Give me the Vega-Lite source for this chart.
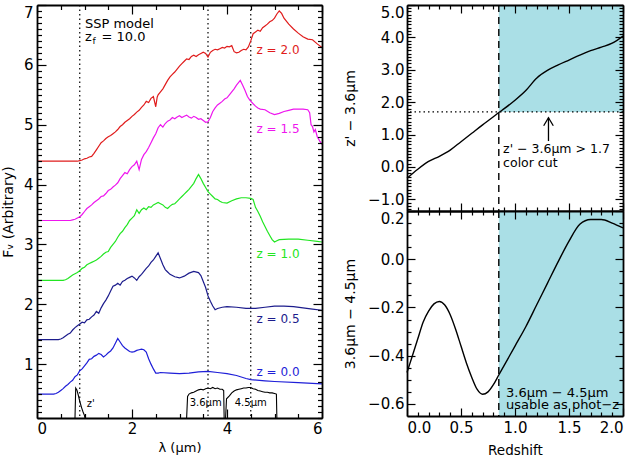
{
  "$schema": "https://vega.github.io/schema/vega-lite/v6.json",
  "background": "white",
  "padding": {"left": 1, "top": 4, "right": 0, "bottom": 0},
  "spacing": 85,
  "bounds": "flush",
  "config": {
    "view": {"stroke": null},
    "axis": {
      "grid": false, "domain": true, "domainColor": "black", "domainWidth": 1.8,
      "tickColor": "black", "tickWidth": 1.2,
      "labelFont": "DejaVu Sans", "labelFontSize": 15, "labelColor": "black",
      "titleFont": "DejaVu Sans", "titleFontSize": 14, "titleFontWeight": "normal", "titleColor": "black",
      "labelOverlap": false, "labelBound": false
    },
    "text": {"font": "DejaVu Sans"}
  },
  "datasets": {
    "spec": [
      {"s":"0.0","x":0,"y":0.50},{"s":"0.0","x":0.35,"y":0.50},{"s":"0.0","x":0.4,"y":0.51},{"s":"0.0","x":0.45,"y":0.53},{"s":"0.0","x":0.5,"y":0.56},{"s":"0.0","x":0.55,"y":0.59},{"s":"0.0","x":0.6,"y":0.63},{"s":"0.0","x":0.65,"y":0.66},{"s":"0.0","x":0.7,"y":0.70},{"s":"0.0","x":0.75,"y":0.73},{"s":"0.0","x":0.8,"y":0.79},{"s":"0.0","x":0.85,"y":0.82},{"s":"0.0","x":0.9,"y":0.89},{"s":"0.0","x":0.95,"y":0.92},{"s":"0.0","x":1.0,"y":0.97},{"s":"0.0","x":1.05,"y":1.02},{"s":"0.0","x":1.1,"y":1.08},{"s":"0.0","x":1.15,"y":1.09},{"s":"0.0","x":1.2,"y":1.13},{"s":"0.0","x":1.25,"y":1.15},{"s":"0.0","x":1.3,"y":1.18},{"s":"0.0","x":1.35,"y":1.16},{"s":"0.0","x":1.4,"y":1.12},{"s":"0.0","x":1.45,"y":1.15},{"s":"0.0","x":1.5,"y":1.19},{"s":"0.0","x":1.55,"y":1.22},{"s":"0.0","x":1.6,"y":1.27},{"s":"0.0","x":1.65,"y":1.35},{"s":"0.0","x":1.7,"y":1.43},{"s":"0.0","x":1.75,"y":1.37},{"s":"0.0","x":1.8,"y":1.31},{"s":"0.0","x":1.85,"y":1.27},{"s":"0.0","x":1.9,"y":1.24},{"s":"0.0","x":1.95,"y":1.21},{"s":"0.0","x":2.0,"y":1.20},{"s":"0.0","x":2.05,"y":1.21},{"s":"0.0","x":2.1,"y":1.23},{"s":"0.0","x":2.15,"y":1.24},{"s":"0.0","x":2.2,"y":1.25},{"s":"0.0","x":2.25,"y":1.24},{"s":"0.0","x":2.3,"y":1.20},{"s":"0.0","x":2.35,"y":1.09},{"s":"0.0","x":2.4,"y":1.00},{"s":"0.0","x":2.45,"y":0.92},{"s":"0.0","x":2.5,"y":0.85},{"s":"0.0","x":2.55,"y":0.85},{"s":"0.0","x":2.6,"y":0.86},{"s":"0.0","x":2.8,"y":0.85},{"s":"0.0","x":3.0,"y":0.84},{"s":"0.0","x":3.2,"y":0.85},{"s":"0.0","x":3.4,"y":0.87},{"s":"0.0","x":3.6,"y":0.88},{"s":"0.0","x":3.8,"y":0.86},{"s":"0.0","x":4.0,"y":0.84},{"s":"0.0","x":4.2,"y":0.81},{"s":"0.0","x":4.4,"y":0.76},{"s":"0.0","x":4.5,"y":0.74},{"s":"0.0","x":4.8,"y":0.72},{"s":"0.0","x":5.0,"y":0.71},{"s":"0.0","x":5.5,"y":0.69},{"s":"0.0","x":6.0,"y":0.67},
      {"s":"0.5","x":0,"y":1.41},{"s":"0.5","x":0.45,"y":1.41},{"s":"0.5","x":0.5,"y":1.42},{"s":"0.5","x":0.55,"y":1.44},{"s":"0.5","x":0.6,"y":1.47},{"s":"0.5","x":0.65,"y":1.50},{"s":"0.5","x":0.7,"y":1.52},{"s":"0.5","x":0.75,"y":1.57},{"s":"0.5","x":0.8,"y":1.61},{"s":"0.5","x":0.85,"y":1.64},{"s":"0.5","x":0.9,"y":1.67},{"s":"0.5","x":0.95,"y":1.70},{"s":"0.5","x":1.0,"y":1.69},{"s":"0.5","x":1.05,"y":1.74},{"s":"0.5","x":1.1,"y":1.75},{"s":"0.5","x":1.15,"y":1.79},{"s":"0.5","x":1.2,"y":1.82},{"s":"0.5","x":1.25,"y":1.88},{"s":"0.5","x":1.3,"y":1.85},{"s":"0.5","x":1.35,"y":1.94},{"s":"0.5","x":1.4,"y":2.01},{"s":"0.5","x":1.45,"y":2.07},{"s":"0.5","x":1.5,"y":2.14},{"s":"0.5","x":1.55,"y":2.22},{"s":"0.5","x":1.6,"y":2.30},{"s":"0.5","x":1.65,"y":2.32},{"s":"0.5","x":1.7,"y":2.35},{"s":"0.5","x":1.75,"y":2.32},{"s":"0.5","x":1.8,"y":2.38},{"s":"0.5","x":1.85,"y":2.40},{"s":"0.5","x":1.9,"y":2.43},{"s":"0.5","x":1.95,"y":2.45},{"s":"0.5","x":2.0,"y":2.47},{"s":"0.5","x":2.05,"y":2.44},{"s":"0.5","x":2.1,"y":2.40},{"s":"0.5","x":2.15,"y":2.46},{"s":"0.5","x":2.2,"y":2.50},{"s":"0.5","x":2.25,"y":2.55},{"s":"0.5","x":2.3,"y":2.60},{"s":"0.5","x":2.35,"y":2.64},{"s":"0.5","x":2.4,"y":2.70},{"s":"0.5","x":2.45,"y":2.74},{"s":"0.5","x":2.5,"y":2.80},{"s":"0.5","x":2.55,"y":2.86},{"s":"0.5","x":2.6,"y":2.76},{"s":"0.5","x":2.65,"y":2.66},{"s":"0.5","x":2.7,"y":2.58},{"s":"0.5","x":2.75,"y":2.54},{"s":"0.5","x":2.8,"y":2.50},{"s":"0.5","x":2.9,"y":2.46},{"s":"0.5","x":3.0,"y":2.44},{"s":"0.5","x":3.1,"y":2.47},{"s":"0.5","x":3.2,"y":2.52},{"s":"0.5","x":3.3,"y":2.55},{"s":"0.5","x":3.4,"y":2.53},{"s":"0.5","x":3.45,"y":2.48},{"s":"0.5","x":3.5,"y":2.38},{"s":"0.5","x":3.55,"y":2.28},{"s":"0.5","x":3.6,"y":2.14},{"s":"0.5","x":3.65,"y":2.05},{"s":"0.5","x":3.7,"y":1.97},{"s":"0.5","x":3.75,"y":1.91},{"s":"0.5","x":3.8,"y":1.93},{"s":"0.5","x":3.9,"y":1.95},{"s":"0.5","x":4.0,"y":1.96},{"s":"0.5","x":4.2,"y":1.95},{"s":"0.5","x":4.4,"y":1.93},{"s":"0.5","x":4.6,"y":1.93},{"s":"0.5","x":4.8,"y":1.95},{"s":"0.5","x":5.0,"y":1.97},{"s":"0.5","x":5.2,"y":1.97},{"s":"0.5","x":5.4,"y":1.96},{"s":"0.5","x":5.6,"y":1.94},{"s":"0.5","x":5.8,"y":1.92},{"s":"0.5","x":6.0,"y":1.90},
      {"s":"1.0","x":0,"y":2.40},{"s":"1.0","x":0.55,"y":2.40},{"s":"1.0","x":0.6,"y":2.41},{"s":"1.0","x":0.65,"y":2.43},{"s":"1.0","x":0.7,"y":2.46},{"s":"1.0","x":0.75,"y":2.49},{"s":"1.0","x":0.8,"y":2.51},{"s":"1.0","x":0.85,"y":2.53},{"s":"1.0","x":0.9,"y":2.56},{"s":"1.0","x":0.95,"y":2.60},{"s":"1.0","x":1.0,"y":2.62},{"s":"1.0","x":1.05,"y":2.66},{"s":"1.0","x":1.1,"y":2.68},{"s":"1.0","x":1.15,"y":2.70},{"s":"1.0","x":1.2,"y":2.72},{"s":"1.0","x":1.25,"y":2.74},{"s":"1.0","x":1.3,"y":2.77},{"s":"1.0","x":1.35,"y":2.80},{"s":"1.0","x":1.4,"y":2.84},{"s":"1.0","x":1.45,"y":2.87},{"s":"1.0","x":1.5,"y":2.88},{"s":"1.0","x":1.55,"y":2.95},{"s":"1.0","x":1.6,"y":3.00},{"s":"1.0","x":1.65,"y":3.05},{"s":"1.0","x":1.7,"y":3.12},{"s":"1.0","x":1.75,"y":3.18},{"s":"1.0","x":1.8,"y":3.22},{"s":"1.0","x":1.85,"y":3.28},{"s":"1.0","x":1.9,"y":3.33},{"s":"1.0","x":1.95,"y":3.40},{"s":"1.0","x":2.0,"y":3.44},{"s":"1.0","x":2.05,"y":3.48},{"s":"1.0","x":2.1,"y":3.58},{"s":"1.0","x":2.15,"y":3.52},{"s":"1.0","x":2.2,"y":3.58},{"s":"1.0","x":2.25,"y":3.61},{"s":"1.0","x":2.3,"y":3.58},{"s":"1.0","x":2.35,"y":3.63},{"s":"1.0","x":2.4,"y":3.62},{"s":"1.0","x":2.45,"y":3.66},{"s":"1.0","x":2.5,"y":3.68},{"s":"1.0","x":2.55,"y":3.70},{"s":"1.0","x":2.6,"y":3.68},{"s":"1.0","x":2.65,"y":3.66},{"s":"1.0","x":2.7,"y":3.62},{"s":"1.0","x":2.75,"y":3.60},{"s":"1.0","x":2.8,"y":3.64},{"s":"1.0","x":2.85,"y":3.67},{"s":"1.0","x":2.9,"y":3.68},{"s":"1.0","x":2.95,"y":3.72},{"s":"1.0","x":3.0,"y":3.76},{"s":"1.0","x":3.05,"y":3.80},{"s":"1.0","x":3.1,"y":3.84},{"s":"1.0","x":3.15,"y":3.88},{"s":"1.0","x":3.2,"y":3.92},{"s":"1.0","x":3.25,"y":3.97},{"s":"1.0","x":3.3,"y":4.02},{"s":"1.0","x":3.35,"y":4.10},{"s":"1.0","x":3.4,"y":4.17},{"s":"1.0","x":3.45,"y":4.10},{"s":"1.0","x":3.5,"y":4.02},{"s":"1.0","x":3.55,"y":3.95},{"s":"1.0","x":3.6,"y":3.88},{"s":"1.0","x":3.65,"y":3.84},{"s":"1.0","x":3.7,"y":3.80},{"s":"1.0","x":3.75,"y":3.76},{"s":"1.0","x":3.8,"y":3.75},{"s":"1.0","x":3.85,"y":3.72},{"s":"1.0","x":3.9,"y":3.70},{"s":"1.0","x":4.0,"y":3.69},{"s":"1.0","x":4.1,"y":3.73},{"s":"1.0","x":4.2,"y":3.76},{"s":"1.0","x":4.3,"y":3.78},{"s":"1.0","x":4.4,"y":3.78},{"s":"1.0","x":4.5,"y":3.77},{"s":"1.0","x":4.55,"y":3.75},{"s":"1.0","x":4.6,"y":3.62},{"s":"1.0","x":4.65,"y":3.55},{"s":"1.0","x":4.7,"y":3.47},{"s":"1.0","x":4.75,"y":3.38},{"s":"1.0","x":4.8,"y":3.30},{"s":"1.0","x":4.85,"y":3.22},{"s":"1.0","x":4.9,"y":3.15},{"s":"1.0","x":4.95,"y":3.08},{"s":"1.0","x":5.0,"y":3.04},{"s":"1.0","x":5.05,"y":3.06},{"s":"1.0","x":5.1,"y":3.08},{"s":"1.0","x":5.3,"y":3.09},{"s":"1.0","x":5.5,"y":3.09},{"s":"1.0","x":5.7,"y":3.07},{"s":"1.0","x":5.9,"y":3.05},{"s":"1.0","x":6.0,"y":3.04},
      {"s":"1.5","x":0,"y":3.40},{"s":"1.5","x":0.7,"y":3.40},{"s":"1.5","x":0.75,"y":3.41},{"s":"1.5","x":0.8,"y":3.42},{"s":"1.5","x":0.85,"y":3.44},{"s":"1.5","x":0.9,"y":3.46},{"s":"1.5","x":0.95,"y":3.50},{"s":"1.5","x":1.0,"y":3.55},{"s":"1.5","x":1.05,"y":3.60},{"s":"1.5","x":1.1,"y":3.63},{"s":"1.5","x":1.15,"y":3.66},{"s":"1.5","x":1.2,"y":3.70},{"s":"1.5","x":1.25,"y":3.73},{"s":"1.5","x":1.3,"y":3.76},{"s":"1.5","x":1.35,"y":3.80},{"s":"1.5","x":1.4,"y":3.81},{"s":"1.5","x":1.45,"y":3.85},{"s":"1.5","x":1.5,"y":3.90},{"s":"1.5","x":1.55,"y":3.92},{"s":"1.5","x":1.6,"y":3.96},{"s":"1.5","x":1.65,"y":3.99},{"s":"1.5","x":1.7,"y":4.03},{"s":"1.5","x":1.75,"y":4.10},{"s":"1.5","x":1.8,"y":4.15},{"s":"1.5","x":1.85,"y":4.20},{"s":"1.5","x":1.9,"y":4.18},{"s":"1.5","x":1.95,"y":4.25},{"s":"1.5","x":2.0,"y":4.30},{"s":"1.5","x":2.05,"y":4.33},{"s":"1.5","x":2.1,"y":4.39},{"s":"1.5","x":2.15,"y":4.25},{"s":"1.5","x":2.2,"y":4.42},{"s":"1.5","x":2.25,"y":4.50},{"s":"1.5","x":2.3,"y":4.55},{"s":"1.5","x":2.35,"y":4.62},{"s":"1.5","x":2.4,"y":4.70},{"s":"1.5","x":2.45,"y":4.78},{"s":"1.5","x":2.5,"y":4.85},{"s":"1.5","x":2.55,"y":4.95},{"s":"1.5","x":2.6,"y":5.00},{"s":"1.5","x":2.65,"y":4.96},{"s":"1.5","x":2.7,"y":5.02},{"s":"1.5","x":2.75,"y":5.06},{"s":"1.5","x":2.8,"y":5.08},{"s":"1.5","x":2.85,"y":5.12},{"s":"1.5","x":2.9,"y":5.10},{"s":"1.5","x":2.95,"y":5.13},{"s":"1.5","x":3.0,"y":5.15},{"s":"1.5","x":3.05,"y":5.12},{"s":"1.5","x":3.1,"y":5.14},{"s":"1.5","x":3.15,"y":5.16},{"s":"1.5","x":3.2,"y":5.13},{"s":"1.5","x":3.25,"y":5.11},{"s":"1.5","x":3.3,"y":5.14},{"s":"1.5","x":3.35,"y":5.12},{"s":"1.5","x":3.4,"y":5.09},{"s":"1.5","x":3.45,"y":5.10},{"s":"1.5","x":3.5,"y":5.07},{"s":"1.5","x":3.55,"y":5.04},{"s":"1.5","x":3.6,"y":5.05},{"s":"1.5","x":3.65,"y":5.12},{"s":"1.5","x":3.7,"y":5.22},{"s":"1.5","x":3.75,"y":5.28},{"s":"1.5","x":3.8,"y":5.33},{"s":"1.5","x":3.85,"y":5.36},{"s":"1.5","x":3.9,"y":5.39},{"s":"1.5","x":3.95,"y":5.43},{"s":"1.5","x":4.0,"y":5.45},{"s":"1.5","x":4.05,"y":5.50},{"s":"1.5","x":4.1,"y":5.55},{"s":"1.5","x":4.15,"y":5.60},{"s":"1.5","x":4.2,"y":5.66},{"s":"1.5","x":4.28,"y":5.74},{"s":"1.5","x":4.33,"y":5.66},{"s":"1.5","x":4.38,"y":5.57},{"s":"1.5","x":4.43,"y":5.47},{"s":"1.5","x":4.48,"y":5.41},{"s":"1.5","x":4.55,"y":5.35},{"s":"1.5","x":4.6,"y":5.31},{"s":"1.5","x":4.65,"y":5.28},{"s":"1.5","x":4.7,"y":5.26},{"s":"1.5","x":4.8,"y":5.25},{"s":"1.5","x":4.9,"y":5.20},{"s":"1.5","x":5.0,"y":5.17},{"s":"1.5","x":5.1,"y":5.19},{"s":"1.5","x":5.2,"y":5.22},{"s":"1.5","x":5.3,"y":5.24},{"s":"1.5","x":5.4,"y":5.26},{"s":"1.5","x":5.5,"y":5.26},{"s":"1.5","x":5.6,"y":5.26},{"s":"1.5","x":5.7,"y":5.25},{"s":"1.5","x":5.74,"y":5.20},{"s":"1.5","x":5.77,"y":5.00},{"s":"1.5","x":5.8,"y":4.97},{"s":"1.5","x":5.83,"y":4.88},{"s":"1.5","x":5.86,"y":4.92},{"s":"1.5","x":5.9,"y":4.80},{"s":"1.5","x":5.95,"y":4.73},{"s":"1.5","x":6.0,"y":4.67},
      {"s":"2.0","x":0,"y":4.39},{"s":"2.0","x":0.85,"y":4.39},{"s":"2.0","x":0.9,"y":4.40},{"s":"2.0","x":0.95,"y":4.41},{"s":"2.0","x":1.0,"y":4.43},{"s":"2.0","x":1.05,"y":4.44},{"s":"2.0","x":1.1,"y":4.46},{"s":"2.0","x":1.15,"y":4.47},{"s":"2.0","x":1.2,"y":4.52},{"s":"2.0","x":1.25,"y":4.58},{"s":"2.0","x":1.3,"y":4.64},{"s":"2.0","x":1.35,"y":4.70},{"s":"2.0","x":1.4,"y":4.73},{"s":"2.0","x":1.45,"y":4.77},{"s":"2.0","x":1.5,"y":4.80},{"s":"2.0","x":1.55,"y":4.82},{"s":"2.0","x":1.6,"y":4.85},{"s":"2.0","x":1.65,"y":4.88},{"s":"2.0","x":1.7,"y":4.92},{"s":"2.0","x":1.75,"y":4.97},{"s":"2.0","x":1.8,"y":5.00},{"s":"2.0","x":1.85,"y":5.04},{"s":"2.0","x":1.9,"y":5.07},{"s":"2.0","x":1.95,"y":5.10},{"s":"2.0","x":2.0,"y":5.14},{"s":"2.0","x":2.05,"y":5.17},{"s":"2.0","x":2.1,"y":5.21},{"s":"2.0","x":2.15,"y":5.24},{"s":"2.0","x":2.2,"y":5.29},{"s":"2.0","x":2.25,"y":5.33},{"s":"2.0","x":2.3,"y":5.39},{"s":"2.0","x":2.35,"y":5.37},{"s":"2.0","x":2.4,"y":5.44},{"s":"2.0","x":2.45,"y":5.47},{"s":"2.0","x":2.5,"y":5.30},{"s":"2.0","x":2.53,"y":5.46},{"s":"2.0","x":2.55,"y":5.50},{"s":"2.0","x":2.6,"y":5.55},{"s":"2.0","x":2.65,"y":5.60},{"s":"2.0","x":2.7,"y":5.67},{"s":"2.0","x":2.75,"y":5.74},{"s":"2.0","x":2.8,"y":5.80},{"s":"2.0","x":2.85,"y":5.84},{"s":"2.0","x":2.9,"y":5.88},{"s":"2.0","x":2.95,"y":5.93},{"s":"2.0","x":3.0,"y":5.98},{"s":"2.0","x":3.05,"y":6.02},{"s":"2.0","x":3.1,"y":6.06},{"s":"2.0","x":3.15,"y":6.10},{"s":"2.0","x":3.2,"y":6.09},{"s":"2.0","x":3.25,"y":6.14},{"s":"2.0","x":3.3,"y":6.16},{"s":"2.0","x":3.35,"y":6.14},{"s":"2.0","x":3.4,"y":6.17},{"s":"2.0","x":3.45,"y":6.19},{"s":"2.0","x":3.5,"y":6.21},{"s":"2.0","x":3.55,"y":6.19},{"s":"2.0","x":3.6,"y":6.13},{"s":"2.0","x":3.65,"y":6.21},{"s":"2.0","x":3.7,"y":6.24},{"s":"2.0","x":3.75,"y":6.26},{"s":"2.0","x":3.8,"y":6.25},{"s":"2.0","x":3.85,"y":6.27},{"s":"2.0","x":3.9,"y":6.29},{"s":"2.0","x":3.95,"y":6.28},{"s":"2.0","x":4.0,"y":6.31},{"s":"2.0","x":4.05,"y":6.30},{"s":"2.0","x":4.1,"y":6.32},{"s":"2.0","x":4.15,"y":6.22},{"s":"2.0","x":4.2,"y":6.20},{"s":"2.0","x":4.25,"y":6.21},{"s":"2.0","x":4.3,"y":6.24},{"s":"2.0","x":4.35,"y":6.26},{"s":"2.0","x":4.4,"y":6.25},{"s":"2.0","x":4.45,"y":6.30},{"s":"2.0","x":4.5,"y":6.40},{"s":"2.0","x":4.55,"y":6.52},{"s":"2.0","x":4.6,"y":6.55},{"s":"2.0","x":4.65,"y":6.58},{"s":"2.0","x":4.7,"y":6.56},{"s":"2.0","x":4.75,"y":6.62},{"s":"2.0","x":4.8,"y":6.65},{"s":"2.0","x":4.85,"y":6.68},{"s":"2.0","x":4.9,"y":6.72},{"s":"2.0","x":4.95,"y":6.74},{"s":"2.0","x":5.0,"y":6.78},{"s":"2.0","x":5.05,"y":6.85},{"s":"2.0","x":5.1,"y":6.90},{"s":"2.0","x":5.15,"y":6.86},{"s":"2.0","x":5.2,"y":6.78},{"s":"2.0","x":5.3,"y":6.68},{"s":"2.0","x":5.4,"y":6.60},{"s":"2.0","x":5.5,"y":6.53},{"s":"2.0","x":5.6,"y":6.47},{"s":"2.0","x":5.7,"y":6.43},{"s":"2.0","x":5.8,"y":6.42},{"s":"2.0","x":5.9,"y":6.35},{"s":"2.0","x":6.0,"y":6.29}
    ],
    "filt": [
      {"f":"z","x":0.80,"y":0.1},{"f":"z","x":0.815,"y":0.60},{"f":"z","x":0.84,"y":0.57},{"f":"z","x":0.87,"y":0.48},{"f":"z","x":0.90,"y":0.38},{"f":"z","x":0.94,"y":0.27},{"f":"z","x":0.97,"y":0.20},{"f":"z","x":1.0,"y":0.14},{"f":"z","x":1.01,"y":0.1},
      {"f":"i1","x":3.15,"y":0.1},{"f":"i1","x":3.17,"y":0.46},{"f":"i1","x":3.2,"y":0.50},{"f":"i1","x":3.25,"y":0.52},{"f":"i1","x":3.3,"y":0.53},{"f":"i1","x":3.35,"y":0.55},{"f":"i1","x":3.4,"y":0.57},{"f":"i1","x":3.45,"y":0.58},{"f":"i1","x":3.5,"y":0.57},{"f":"i1","x":3.55,"y":0.59},{"f":"i1","x":3.6,"y":0.60},{"f":"i1","x":3.65,"y":0.59},{"f":"i1","x":3.7,"y":0.61},{"f":"i1","x":3.75,"y":0.59},{"f":"i1","x":3.8,"y":0.60},{"f":"i1","x":3.85,"y":0.58},{"f":"i1","x":3.9,"y":0.58},{"f":"i1","x":3.93,"y":0.56},{"f":"i1","x":3.94,"y":0.1},
      {"f":"i2","x":3.97,"y":0.1},{"f":"i2","x":3.99,"y":0.42},{"f":"i2","x":4.05,"y":0.47},{"f":"i2","x":4.1,"y":0.52},{"f":"i2","x":4.15,"y":0.55},{"f":"i2","x":4.2,"y":0.57},{"f":"i2","x":4.25,"y":0.58},{"f":"i2","x":4.3,"y":0.59},{"f":"i2","x":4.35,"y":0.60},{"f":"i2","x":4.4,"y":0.60},{"f":"i2","x":4.45,"y":0.61},{"f":"i2","x":4.5,"y":0.61},{"f":"i2","x":4.55,"y":0.59},{"f":"i2","x":4.6,"y":0.58},{"f":"i2","x":4.65,"y":0.56},{"f":"i2","x":4.7,"y":0.55},{"f":"i2","x":4.75,"y":0.54},{"f":"i2","x":4.8,"y":0.53},{"f":"i2","x":4.85,"y":0.53},{"f":"i2","x":4.9,"y":0.52},{"f":"i2","x":4.95,"y":0.52},{"f":"i2","x":5.0,"y":0.51},{"f":"i2","x":5.04,"y":0.50},{"f":"i2","x":5.05,"y":0.1}
    ],
    "zc": [
      {"z":0,"v":-0.35},{"z":0.1,"v":-0.07},{"z":0.2,"v":0.17},{"z":0.3,"v":0.33},{"z":0.4,"v":0.52},{"z":0.5,"v":0.78},{"z":0.6,"v":1.04},{"z":0.7,"v":1.30},{"z":0.8,"v":1.55},{"z":0.85,"v":1.68},{"z":0.9,"v":1.80},{"z":1.0,"v":2.06},{"z":1.1,"v":2.36},{"z":1.2,"v":2.74},{"z":1.3,"v":2.98},{"z":1.4,"v":3.15},{"z":1.5,"v":3.30},{"z":1.6,"v":3.45},{"z":1.7,"v":3.59},{"z":1.8,"v":3.70},{"z":1.9,"v":3.82},{"z":2.0,"v":4.04}
    ],
    "ic": [
      {"z":0,"v":-0.47},{"z":0.05,"v":-0.40},{"z":0.1,"v":-0.33},{"z":0.15,"v":-0.26},{"z":0.2,"v":-0.215},{"z":0.25,"v":-0.185},{"z":0.3,"v":-0.175},{"z":0.35,"v":-0.19},{"z":0.4,"v":-0.23},{"z":0.45,"v":-0.29},{"z":0.5,"v":-0.36},{"z":0.55,"v":-0.43},{"z":0.6,"v":-0.49},{"z":0.65,"v":-0.54},{"z":0.7,"v":-0.56},{"z":0.75,"v":-0.55},{"z":0.8,"v":-0.52},{"z":0.85,"v":-0.48},{"z":0.9,"v":-0.44},{"z":1.0,"v":-0.36},{"z":1.1,"v":-0.28},{"z":1.2,"v":-0.19},{"z":1.3,"v":-0.10},{"z":1.4,"v":-0.01},{"z":1.5,"v":0.075},{"z":1.6,"v":0.145},{"z":1.7,"v":0.165},{"z":1.8,"v":0.165},{"z":1.9,"v":0.15},{"z":2.0,"v":0.13}
    ]
  },
  "hconcat": [
    {
      "width": 285,
      "height": 413,
      "resolve": {"axis": {"x": "independent", "y": "independent"}},
      "layer": [
        {
          "data": {"values": [{"x": 0.9}, {"x": 3.6}, {"x": 4.5}]},
          "mark": {"type": "rule", "color": "black", "strokeWidth": 1.2, "strokeDash": [1.5, 3]},
          "encoding": {
            "x": {"field": "x", "type": "quantitative", "scale": {"domain": [0, 6], "nice": false, "zero": false},
              "axis": {"orient": "top", "zindex": 1, "labels": false, "title": null, "domain": false, "tickSize": -4.5,
                "values": [0.5,1,1.5,2.5,3,3.5,4.5,5,5.5]}}
          }
        },
        {
          "data": {"name": "spec"},
          "mark": {"type": "line", "strokeWidth": 1.2, "clip": true},
          "encoding": {
            "x": {"field": "x", "type": "quantitative", "scale": {"domain": [0, 6], "nice": false, "zero": false},
              "axis": {"orient": "bottom", "zindex": 1, "values": [0, 2, 4, 6], "format": "d", "tickSize": -9,
                "labelPadding": 12.5, "labelOverlap": false, "title": "λ (μm)", "titleFontSize": 13, "titlePadding": 5}},
            "y": {"field": "y", "type": "quantitative", "scale": {"domain": [0.1, 7], "nice": false, "zero": false},
              "axis": {"orient": "left", "zindex": 1, "values": [1, 2, 3, 4, 5, 6, 7], "format": "d", "tickSize": -9,
                "labelPadding": 13, "labelFlush": true, "labelOverlap": false, "title": "Fᵥ (Arbitrary)", "titlePadding": 8}},
            "color": {"field": "s", "type": "nominal",
              "scale": {"domain": ["2.0", "1.5", "1.0", "0.5", "0.0"], "range": ["#e01c1c", "#ee16ee", "#22e622", "#1c1c8c", "#1f1fd8"]},
              "legend": null}
          }
        },
        {
          "data": {"name": "filt"},
          "mark": {"type": "line", "color": "black", "strokeWidth": 1.1, "clip": true},
          "encoding": {
            "x": {"field": "x", "type": "quantitative", "scale": {"domain": [0, 6], "nice": false, "zero": false},
              "axis": {"orient": "bottom", "zindex": 1, "labels": false, "title": null, "domain": false, "tickSize": -4.5,
                "values": [0.5,1,1.5,2.5,3,3.5,4.5,5,5.5]}},
            "y": {"field": "y", "type": "quantitative", "scale": {"domain": [0.1, 7], "nice": false, "zero": false},
              "axis": {"orient": "left", "zindex": 1, "labels": false, "title": null, "domain": false, "tickSize": -4.5,
                "values": [0.1,0.2,0.3,0.4,0.5,0.6,0.7,0.8,0.9,1.1,1.2,1.3,1.4,1.5,1.6,1.7,1.8,1.9,2.1,2.2,2.3,2.4,2.5,2.6,2.7,2.8,2.9,3.1,3.2,3.3,3.4,3.5,3.6,3.7,3.8,3.9,4.1,4.2,4.3,4.4,4.5,4.6,4.7,4.8,4.9,5.1,5.2,5.3,5.4,5.5,5.6,5.7,5.8,5.9,6.1,6.2,6.3,6.4,6.5,6.6,6.7,6.8,6.9]}},
            "detail": {"field": "f", "type": "nominal"}
          }
        },
        {
          "data": {"values": [
            {"s": "2.0", "x": 4.62, "y": 6.24, "t": "z = 2.0"},
            {"s": "1.5", "x": 4.62, "y": 4.93, "t": "z = 1.5"},
            {"s": "1.0", "x": 4.62, "y": 2.84, "t": "z = 1.0"},
            {"s": "0.5", "x": 4.62, "y": 1.75, "t": "z = 0.5"},
            {"s": "0.0", "x": 4.62, "y": 0.87, "t": "z = 0.0"}
          ]},
          "mark": {"type": "text", "align": "left", "baseline": "middle", "fontSize": 12},
          "encoding": {
            "x": {"field": "x", "type": "quantitative", "scale": {"domain": [0, 6], "nice": false, "zero": false},
              "axis": {"orient": "top", "zindex": 1, "labels": false, "title": null, "tickSize": -9, "values": [0, 2, 4, 6]}},
            "y": {"field": "y", "type": "quantitative", "scale": {"domain": [0.1, 7], "nice": false, "zero": false},
              "axis": {"orient": "right", "zindex": 1, "labels": false, "title": null, "tickSize": -9, "values": [1, 2, 3, 4, 5, 6, 7]}},
            "text": {"field": "t"},
            "color": {"field": "s", "type": "nominal", "legend": null}
          }
        },
        {
          "data": {"values": [
            {"x": 1.13, "y": 0.33, "t": "z'"},
            {"x": 3.55, "y": 0.35, "t": "3.6μm"},
            {"x": 4.5, "y": 0.35, "t": "4.5μm"}
          ]},
          "mark": {"type": "text", "align": "center", "baseline": "middle", "fontSize": 10, "color": "black"},
          "encoding": {
            "x": {"field": "x", "type": "quantitative", "axis": null},
            "y": {"field": "y", "type": "quantitative", "scale": {"domain": [0.1, 7], "nice": false, "zero": false},
              "axis": {"orient": "right", "zindex": 1, "labels": false, "title": null, "domain": false, "tickSize": -4.5,
                "values": [0.1,0.2,0.3,0.4,0.5,0.6,0.7,0.8,0.9,1.1,1.2,1.3,1.4,1.5,1.6,1.7,1.8,1.9,2.1,2.2,2.3,2.4,2.5,2.6,2.7,2.8,2.9,3.1,3.2,3.3,3.4,3.5,3.6,3.7,3.8,3.9,4.1,4.2,4.3,4.4,4.5,4.6,4.7,4.8,4.9,5.1,5.2,5.3,5.4,5.5,5.6,5.7,5.8,5.9,6.1,6.2,6.3,6.4,6.5,6.6,6.7,6.8,6.9]}},
            "text": {"field": "t"}
          }
        },
        {
          "data": {"values": [{"x": 1.01, "y": 6.68}]},
          "mark": {"type": "text", "align": "left", "baseline": "middle", "fontSize": 13, "color": "black"},
          "encoding": {
            "x": {"field": "x", "type": "quantitative", "axis": null},
            "y": {"field": "y", "type": "quantitative", "axis": null},
            "text": {"value": "SSP  model"}
          }
        },
        {
          "data": {"values": [{"x": 1.01, "y": 6.47}]},
          "mark": {"type": "text", "align": "left", "baseline": "middle", "fontSize": 13, "color": "black"},
          "encoding": {
            "x": {"field": "x", "type": "quantitative", "axis": null},
            "y": {"field": "y", "type": "quantitative", "axis": null},
            "text": {"value": "z"}
          }
        },
        {
          "data": {"values": [{"x": 1.01, "y": 6.47}]},
          "mark": {"type": "text", "align": "left", "baseline": "middle", "fontSize": 9, "color": "black", "dx": 7.5, "dy": 4},
          "encoding": {
            "x": {"field": "x", "type": "quantitative", "axis": null},
            "y": {"field": "y", "type": "quantitative", "axis": null},
            "text": {"value": "f"}
          }
        },
        {
          "data": {"values": [{"x": 1.01, "y": 6.47}]},
          "mark": {"type": "text", "align": "left", "baseline": "middle", "fontSize": 13, "color": "black", "dx": 16.5},
          "encoding": {
            "x": {"field": "x", "type": "quantitative", "axis": null},
            "y": {"field": "y", "type": "quantitative", "axis": null},
            "text": {"value": "=  10.0"}
          }
        }
      ]
    },
    {
      "spacing": 0,
      "bounds": "flush",
      "vconcat": [
        {
          "width": 216,
          "height": 206,
          "resolve": {"axis": {"x": "independent", "y": "independent"}},
          "layer": [
            {
              "data": {"values": [{"x": 0.85, "x2": 2.0, "y": 1.7, "y2": 5.0}]},
              "mark": {"type": "rect", "color": "#aadfe6"},
              "encoding": {
                "x": {"field": "x", "type": "quantitative", "scale": {"domain": [0, 2], "nice": false, "zero": false}, "axis": null},
                "x2": {"field": "x2"},
                "y": {"field": "y", "type": "quantitative", "scale": {"domain": [-1.36, 5], "nice": false, "zero": false}, "axis": null},
                "y2": {"field": "y2"}
              }
            },
            {
              "data": {"values": [{"y": 1.7}]},
              "mark": {"type": "rule", "color": "black", "strokeWidth": 1.3, "strokeDash": [1.5, 3]},
              "encoding": {
                "y": {"field": "y", "type": "quantitative", "scale": {"domain": [-1.36, 5], "nice": false, "zero": false},
                  "axis": {"orient": "right", "zindex": 1, "labels": false, "title": null, "domain": false, "tickSize": -4,
                    "values": [-1.3,-1.2,-1.1,-0.9,-0.8,-0.7,-0.6,-0.5,-0.4,-0.3,-0.2,-0.1,0.1,0.2,0.3,0.4,0.5,0.6,0.7,0.8,0.9,1.1,1.2,1.3,1.4,1.5,1.6,1.7,1.8,1.9,2.1,2.2,2.3,2.4,2.5,2.6,2.7,2.8,2.9,3.1,3.2,3.3,3.4,3.5,3.6,3.7,3.8,3.9,4.1,4.2,4.3,4.4,4.5,4.6,4.7,4.8,4.9]}}
              }
            },
            {
              "data": {"values": [{"x": 0.85}]},
              "mark": {"type": "rule", "color": "black", "strokeWidth": 1.4, "strokeDash": [7, 5]},
              "encoding": {
                "x": {"field": "x", "type": "quantitative", "scale": {"domain": [0, 2], "nice": false, "zero": false},
                  "axis": {"orient": "top", "zindex": 1, "labels": false, "title": null, "domain": false, "tickSize": -4,
                    "values": [0.1,0.2,0.3,0.4,0.6,0.7,0.8,0.9,1.1,1.2,1.3,1.4,1.6,1.7,1.8,1.9]}}
              }
            },
            {
              "data": {"name": "zc"},
              "mark": {"type": "line", "color": "black", "strokeWidth": 1.4, "interpolate": "monotone"},
              "encoding": {
                "x": {"field": "z", "type": "quantitative", "scale": {"domain": [0, 2], "nice": false, "zero": false},
                  "axis": {"orient": "bottom", "zindex": 1, "labels": false, "title": null, "tickSize": -8, "values": [0, 0.5, 1, 1.5, 2]}},
                "y": {"field": "v", "type": "quantitative", "scale": {"domain": [-1.36, 5], "nice": false, "zero": false},
                  "axis": {"orient": "left", "zindex": 1, "format": ".1f", "values": [-1, 0, 1, 2, 3, 4, 5], "tickSize": -8,
                    "labelPadding": 11, "labelFlush": true, "labelOverlap": false, "title": "z'  −  3.6μm", "titlePadding": 10}}
              }
            },
            {
              "data": {"values": [{"z": 1.31, "v": 0.8, "v2": 1.52}]},
              "mark": {"type": "rule", "color": "black", "strokeWidth": 1.3},
              "encoding": {
                "x": {"field": "z", "type": "quantitative", "scale": {"domain": [0, 2], "nice": false, "zero": false},
                  "axis": {"orient": "bottom", "zindex": 1, "labels": false, "title": null, "domain": false, "tickSize": -4,
                    "values": [0.1,0.2,0.3,0.4,0.6,0.7,0.8,0.9,1.1,1.2,1.3,1.4,1.6,1.7,1.8,1.9]}},
                "y": {"field": "v", "type": "quantitative", "scale": {"domain": [-1.36, 5], "nice": false, "zero": false},
                  "axis": {"orient": "left", "zindex": 1, "labels": false, "title": null, "domain": false, "tickSize": -4,
                    "values": [-1.3,-1.2,-1.1,-0.9,-0.8,-0.7,-0.6,-0.5,-0.4,-0.3,-0.2,-0.1,0.1,0.2,0.3,0.4,0.5,0.6,0.7,0.8,0.9,1.1,1.2,1.3,1.4,1.5,1.6,1.7,1.8,1.9,2.1,2.2,2.3,2.4,2.5,2.6,2.7,2.8,2.9,3.1,3.2,3.3,3.4,3.5,3.6,3.7,3.8,3.9,4.1,4.2,4.3,4.4,4.5,4.6,4.7,4.8,4.9]}},
                "y2": {"field": "v2"}
              }
            },
            {
              "data": {"values": [{"z": 1.31, "v": 1.52}]},
              "mark": {"type": "point", "shape": "M-0.6,1L0,0L0.6,1", "size": 256, "filled": false, "stroke": "black", "strokeWidth": 1.3, "opacity": 1},
              "encoding": {
                "x": {"field": "z", "type": "quantitative", "scale": {"domain": [0, 2], "nice": false, "zero": false},
                  "axis": {"orient": "top", "zindex": 1, "labels": false, "title": null, "tickSize": -8, "values": [0, 0.5, 1, 1.5, 2]}},
                "y": {"field": "v", "type": "quantitative", "scale": {"domain": [-1.36, 5], "nice": false, "zero": false},
                  "axis": {"orient": "right", "zindex": 1, "labels": false, "title": null, "tickSize": -8, "values": [-1, 0, 1, 2, 3, 4, 5]}}
              }
            },
            {
              "data": {"values": [
                {"z": 0.89, "v": 0.56, "t": "z' − 3.6μm > 1.7"},
                {"z": 0.89, "v": 0.11, "t": "color cut"}
              ]},
              "mark": {"type": "text", "align": "left", "baseline": "middle", "fontSize": 12.5, "color": "black"},
              "encoding": {
                "x": {"field": "z", "type": "quantitative", "axis": null},
                "y": {"field": "v", "type": "quantitative", "axis": null},
                "text": {"field": "t"}
              }
            }
          ]
        },
        {
          "width": 216,
          "height": 205,
          "resolve": {"axis": {"x": "independent", "y": "independent"}},
          "layer": [
            {
              "data": {"values": [{"x": 0.85, "x2": 2.0, "y": -0.65, "y2": 0.2}]},
              "mark": {"type": "rect", "color": "#aadfe6"},
              "encoding": {
                "x": {"field": "x", "type": "quantitative", "scale": {"domain": [0, 2], "nice": false, "zero": false},
                  "axis": {"orient": "bottom", "zindex": 1, "labels": false, "title": null, "domain": false, "tickSize": -4,
                    "values": [0.1,0.2,0.3,0.4,0.6,0.7,0.8,0.9,1.1,1.2,1.3,1.4,1.6,1.7,1.8,1.9]}},
                "x2": {"field": "x2"},
                "y": {"field": "y", "type": "quantitative", "scale": {"domain": [-0.65, 0.2], "nice": false, "zero": false},
                  "axis": {"orient": "left", "zindex": 1, "labels": false, "title": null, "domain": false, "tickSize": -4,
                    "values": [-0.55,-0.5,-0.45,-0.35,-0.3,-0.25,-0.15,-0.1,-0.05,0.05,0.1,0.15]}},
                "y2": {"field": "y2"}
              }
            },
            {
              "data": {"values": [{"x": 0.85}]},
              "mark": {"type": "rule", "color": "black", "strokeWidth": 1.4, "strokeDash": [7, 5]},
              "encoding": {
                "x": {"field": "x", "type": "quantitative", "scale": {"domain": [0, 2], "nice": false, "zero": false},
                  "axis": {"orient": "top", "zindex": 1, "labels": false, "title": null, "domain": false, "tickSize": -4,
                    "values": [0.1,0.2,0.3,0.4,0.6,0.7,0.8,0.9,1.1,1.2,1.3,1.4,1.6,1.7,1.8,1.9]}}
              }
            },
            {
              "data": {"name": "ic"},
              "mark": {"type": "line", "color": "black", "strokeWidth": 1.4, "interpolate": "monotone"},
              "encoding": {
                "x": {"field": "z", "type": "quantitative", "scale": {"domain": [0, 2], "nice": false, "zero": false},
                  "axis": {"orient": "bottom", "zindex": 1, "format": ".1f", "values": [0, 0.5, 1, 1.5, 2], "tickSize": -8,
                    "labelPadding": 12, "labelOverlap": false, "title": "Redshift", "titleFontSize": 13.5, "titlePadding": 8}},
                "y": {"field": "v", "type": "quantitative", "scale": {"domain": [-0.65, 0.2], "nice": false, "zero": false},
                  "axis": {"orient": "left", "zindex": 1, "format": ".1f", "values": [-0.6, -0.4, -0.2, 0, 0.2], "tickSize": -8,
                    "labelPadding": 11, "labelFlush": true, "labelOverlap": false, "title": "3.6μm − 4.5μm", "titlePadding": 10}}
              }
            },
            {
              "data": {"values": [{"z": 0.917, "v": -0.555, "t": "3.6μm − 4.5μm"}]},
              "mark": {"type": "text", "align": "left", "baseline": "middle", "fontSize": 13, "color": "black"},
              "encoding": {
                "x": {"field": "z", "type": "quantitative", "scale": {"domain": [0, 2], "nice": false, "zero": false},
                  "axis": {"orient": "top", "zindex": 1, "labels": false, "title": null, "tickSize": -8, "values": [0, 0.5, 1, 1.5, 2]}},
                "y": {"field": "v", "type": "quantitative", "scale": {"domain": [-0.65, 0.2], "nice": false, "zero": false},
                  "axis": {"orient": "right", "zindex": 1, "labels": false, "title": null, "tickSize": -8, "values": [-0.6, -0.4, -0.2, 0, 0.2]}},
                "text": {"field": "t"}
              }
            },
            {
              "data": {"values": [{"z": 0.917, "v": -0.606, "t": "usable as phot−z"}]},
              "mark": {"type": "text", "align": "left", "baseline": "middle", "fontSize": 13, "color": "black"},
              "encoding": {
                "x": {"field": "z", "type": "quantitative", "axis": null},
                "y": {"field": "v", "type": "quantitative", "scale": {"domain": [-0.65, 0.2], "nice": false, "zero": false},
                  "axis": {"orient": "right", "zindex": 1, "labels": false, "title": null, "domain": false, "tickSize": -4,
                    "values": [-0.55,-0.5,-0.45,-0.35,-0.3,-0.25,-0.15,-0.1,-0.05,0.05,0.1,0.15]}},
                "text": {"field": "t"}
              }
            }
          ]
        }
      ]
    }
  ]
}
